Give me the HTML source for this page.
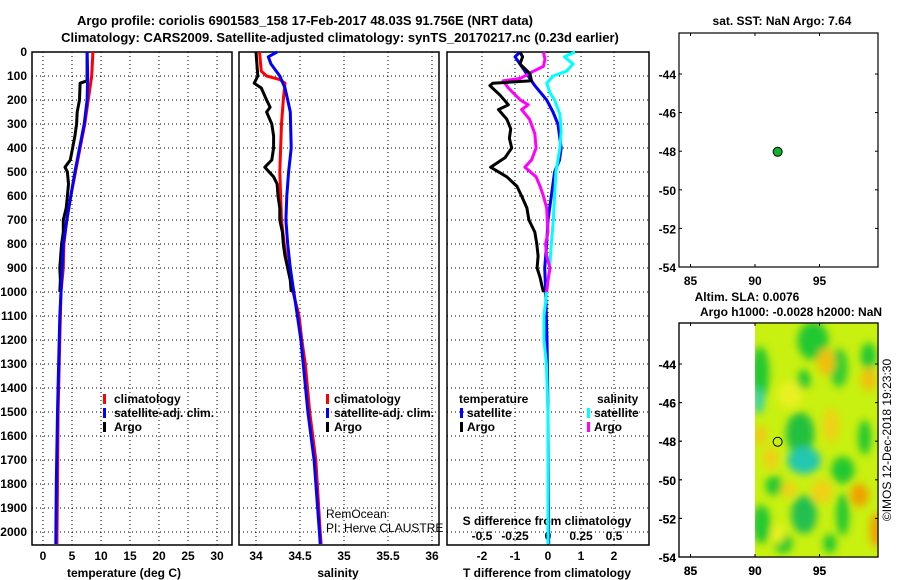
<!DOCTYPE html>
<html><head><meta charset="utf-8"><style>
html,body{margin:0;padding:0;background:#fff;}
svg{display:block;font-family:"Liberation Sans",sans-serif;font-weight:bold;}
</style></head><body>
<svg id="c" width="900" height="580" viewBox="0 0 900 580" xmlns="http://www.w3.org/2000/svg">
<defs>
<filter id="blur" x="-20%" y="-20%" width="140%" height="140%"><feGaussianBlur stdDeviation="4"/></filter>
<clipPath id="fieldclip"><rect x="755" y="323" width="123" height="234"/></clipPath>
</defs>
<text x="305" y="25" text-anchor="middle" font-size="13">Argo profile: coriolis 6901583_158 17-Feb-2017 48.03S 91.756E (NRT data)</text>
<text x="340" y="42" text-anchor="middle" font-size="13">Climatology: CARS2009. Satellite-adjusted climatology: synTS_20170217.nc (0.23d earlier)</text>
<g id="layer"></g>
</svg>
<script>
// ---------- data ----------
const depthTicks=[0,100,200,300,400,500,600,700,800,900,1000,1100,1200,1300,1400,1500,1600,1700,1800,1900,2000];
const tTicks=[0,5,10,15,20,25,30];
const sTicks=[34,34.5,35,35.5,36];
const sTickLabels=["34","34.5","35","35.5","36"];
const dTicks=[-2,-1,0,1,2];
const dSTickLabels=["-0.5","-0.25","0","0.25","0.5"];

const argoDepth=[0,120,130,200,250,300,350,400,450,480,500,550,600,650,700,750,800,900,950,1000];
const argoT=[7.6,7.6,6.4,6.3,5.9,5.8,5.5,5.1,4.7,3.8,4.2,4.4,4.2,4.0,3.5,3.5,3.2,2.9,3.0,2.9];
const climTDepth=[0,100,200,300,400,500,600,700,800,900,1000,1200,1500,1800,2050];
const climT=[8.6,8.4,7.8,7.2,6.4,5.6,4.8,4.1,3.6,3.5,3.1,2.9,2.6,2.5,2.4];
const satTDepth=[0,100,200,300,400,500,600,700,800,900,1000,1100,1200,1500,1800,2050];
const satT=[7.6,7.7,7.6,7.1,6.3,5.5,4.8,4.1,3.5,3.3,3.1,2.9,2.8,2.5,2.3,2.2];

const argoSDepth=[0,100,130,150,200,230,250,300,350,400,450,480,520,550,600,650,700,750,800,850,900,950,1000];
const argoS=[34.0,34.02,33.98,34.06,34.12,34.16,34.12,34.18,34.2,34.2,34.18,34.1,34.2,34.24,34.25,34.27,34.27,34.3,34.31,34.33,34.36,34.39,34.4];
const climSDepth=[0,80,100,115,130,200,300,500,700,800,900,1000,1100,1200,1300,1500,1700,2000,2050];
const climS=[34.04,34.06,34.12,34.27,34.33,34.31,34.29,34.27,34.29,34.32,34.36,34.42,34.49,34.52,34.56,34.61,34.68,34.73,34.74];
const satSDepth=[0,20,50,100,150,200,250,400,500,600,700,800,900,1000,1100,1200,1500,1700,2000,2050];
const satS=[34.24,34.14,34.17,34.27,34.33,34.36,34.39,34.4,34.37,34.35,34.34,34.36,34.39,34.43,34.47,34.51,34.59,34.66,34.72,34.73];

const dArgoTDepth=[0,20,50,90,120,130,140,180,220,240,280,320,360,400,440,480,520,560,600,650,700,750,800,850,900,940,970,1000];
const dArgoT=[-0.85,-0.77,-0.85,-0.55,-0.5,-1.67,-1.76,-1.45,-1.2,-1.5,-1.25,-1.13,-1.17,-1.1,-1.3,-1.74,-1.25,-0.94,-0.8,-0.64,-0.58,-0.4,-0.34,-0.3,-0.33,-0.24,-0.19,-0.14];
const dArgoSDepth=[0,30,60,80,110,120,150,200,220,240,280,340,400,450,480,520,560,600,650,700,750,800,850,900,950,1000];
const dArgoS=[-0.035,-0.023,-0.035,-0.11,-0.21,-0.34,-0.3,-0.21,-0.15,-0.2,-0.14,-0.1,-0.09,-0.125,-0.175,-0.09,-0.06,-0.035,-0.01,-0.005,0,-0.018,-0.01,0.015,0,-0.01];
const dSatTDepth=[0,20,50,100,140,200,250,300,400,450,500,600,700,800,900,1000,1200,1500,2050];
const dSatT=[-0.85,-1.0,-0.85,-0.6,-0.4,-0.04,0.15,0.3,0.4,0.35,0.2,0.1,0,-0.04,-0.1,-0.07,-0.03,0,0.02];
const dSatSDepth=[0,20,50,80,100,130,170,200,260,330,400,500,600,700,800,900,1000,1100,1200,1300,1500,2050];
const dSatS=[0.205,0.125,0.19,0.14,0.04,-0.01,0.015,0.05,0.09,0.1,0.09,0.06,0.05,0.04,0.025,0.012,-0.01,-0.03,-0.03,-0.012,0,0];

const mapXTicks=[85,90,95];
const mapYTicks=[-44,-46,-48,-50,-52,-54];
const argoLon=91.756, argoLat=-48.03;

// ---------- helpers ----------
const NS="http://www.w3.org/2000/svg";
const L=document.getElementById('layer');
function mk(tag,attrs,parent){const e=document.createElementNS(NS,tag);for(const k in attrs)e.setAttribute(k,attrs[k]);(parent||L).appendChild(e);return e;}
const Y0=52, Y1=545;
const yD=d=>Y0+d*0.24;
const panels=[
 {x0:32,x1:232,fx:v=>43+v*5.8},
 {x0:239,x1:439,fx:v=>256+(v-34)*88},
 {x0:447,x1:649,fx:v=>548+v*33}
];
const fxS3=v=>548+v*4*33;

function frame(p,name){
 const r=mk('rect',{x:p.x0,y:Y0,width:p.x1-p.x0,height:Y1-Y0,fill:'none',stroke:'#000','stroke-width':1.5});
 
 
 depthTicks.forEach(d=>{
  const g=mk('line',{x1:p.x0,x2:p.x1,y1:yD(d),y2:yD(d),stroke:'#000','stroke-width':1,'stroke-dasharray':'1,3'});
  
  
 });
}
function vgrid(p,ticks,fx){
 ticks.forEach(t=>{
  const g=mk('line',{x1:fx(t),x2:fx(t),y1:Y0,y2:Y1,stroke:'#000','stroke-width':1,'stroke-dasharray':'1,3'});
  
  
 });
}
function line(ds,vs,fx,color,name){
 const pts=ds.map((d,i)=>fx(vs[i]).toFixed(1)+','+yD(d).toFixed(1)).join(' ');
 const e=mk('polyline',{points:pts,fill:'none',stroke:color,'stroke-width':3,'stroke-linejoin':'round'});
 
 
}
function text(x,y,s,opts,name){
 const e=mk('text',Object.assign({x:x,y:y,'font-size':12},opts||{}));e.textContent=s;
 
 
 return e;
}
function marker(x,y,color){
 const e=mk('rect',{x:x,y:y-9,width:3,height:10,fill:color});
 
 
}

// panels
panels.forEach((p,i)=>frame(p,['temperature-panel','salinity-panel','difference-panel'][i]));
vgrid(panels[0],tTicks,panels[0].fx);
vgrid(panels[1],sTicks,panels[1].fx);
vgrid(panels[2],dTicks,panels[2].fx);

depthTicks.forEach(d=>text(27,yD(d)+4,String(d),{'text-anchor':'end'},'depth-tick-label'));
tTicks.forEach(t=>text(panels[0].fx(t),560,String(t),{'text-anchor':'middle'},'temperature-tick-label'));
sTicks.forEach((t,i)=>text(panels[1].fx(t),560,sTickLabels[i],{'text-anchor':'middle'},'salinity-tick-label'));
dTicks.forEach(t=>text(panels[2].fx(t),560,String(t),{'text-anchor':'middle'},'t-diff-tick-label'));
dSTickLabels.forEach((s,i)=>text(panels[2].fx(dTicks[i]),540,s,{'text-anchor':'middle'},'s-diff-tick-label'));
text(124,577,'temperature (deg C)',{'text-anchor':'middle'},'temperature-axis-title');
text(338,577,'salinity',{'text-anchor':'middle'},'salinity-axis-title');
text(547,577,'T difference from climatology',{'text-anchor':'middle'},'t-diff-axis-title');
text(547,525,'S difference from climatology',{'text-anchor':'middle'},'s-diff-axis-title');

// series
line(climTDepth,climT,panels[0].fx,'#ff0000','temperature-climatology-line');
line(argoDepth,argoT,panels[0].fx,'#000000','temperature-argo-line');
line(satTDepth,satT,panels[0].fx,'#0000ff','temperature-satellite-line');
line(climSDepth,climS,panels[1].fx,'#ff0000','salinity-climatology-line');
line(argoSDepth,argoS,panels[1].fx,'#000000','salinity-argo-line');
line(satSDepth,satS,panels[1].fx,'#0000ff','salinity-satellite-line');
line(dSatTDepth,dSatT,panels[2].fx,'#0000ff','t-diff-satellite-line');
line(dSatSDepth,dSatS,fxS3,'#00ffff','s-diff-satellite-line');
line(dArgoSDepth,dArgoS,fxS3,'#ff00ff','s-diff-argo-line');
line(dArgoTDepth,dArgoT,panels[2].fx,'#000000','t-diff-argo-line');

// legends
[[0,103,114],[1,326,334]].forEach(([pi,mx,tx])=>{
 marker(mx,403,'#ff0000');text(tx,403,'climatology',{},'legend-climatology');
 marker(mx,417,'#0000ff');text(tx,417,'satellite-adj. clim.',{},'legend-satellite');
 marker(mx,431,'#000000');text(tx,431,'Argo',{},'legend-argo');
});
text(459,403,'temperature',{},'legend-temperature-heading');
text(597,403,'salinity',{},'legend-salinity-heading');
marker(460,417,'#0000ff');text(467,417,'satellite',{},'legend-t-satellite');
marker(460,431,'#000000');text(467,431,'Argo',{},'legend-t-argo');
marker(587,417,'#00ffff');text(594,417,'satellite',{},'legend-s-satellite');
marker(587,431,'#ff00ff');text(594,431,'Argo',{},'legend-s-argo');
text(326,518,'RemOcean',{'font-weight':'normal'},'credit-project');
text(326,532,'PI: Herve CLAUSTRE',{'font-weight':'normal'},'credit-pi');

// maps
function mapFrame(oy,name){
 const fx=v=>755+(v-90)*12.9, fy=v=>74+oy+(-44-v)*19.3;
 const r=mk('rect',{x:679,y:33+oy,width:199,height:234,fill:'none',stroke:'#000','stroke-width':1.2});
 
 
 mapXTicks.forEach(t=>{
  mk('line',{x1:fx(t),x2:fx(t),y1:33+oy,y2:36+oy,stroke:'#000'});
  mk('line',{x1:fx(t),x2:fx(t),y1:267+oy,y2:264+oy,stroke:'#000'});
  text(fx(t),285+oy,String(t),{'text-anchor':'middle'},'map-lon-tick-label');
 });
 mapYTicks.forEach(t=>{
  mk('line',{x1:679,x2:682,y1:fy(t),y2:fy(t),stroke:'#000'});
  mk('line',{x1:878,x2:875,y1:fy(t),y2:fy(t),stroke:'#000'});
  text(676,fy(t)+5,String(t),{'text-anchor':'end'},'map-lat-tick-label');
 });
 return {fx,fy};
}
// SLA field (bottom map)
const fieldBlobs=[
 // [lon, lat, rx(deg), ry(deg), color]
 [94.5,-42.8,1.2,1.0,'#22c830'],[98.8,-43.6,0.6,0.7,'#22c830'],[90.4,-44.5,0.7,1.4,'#22c830'],
 [90.3,-45.9,0.4,0.7,'#30d0b0'],[93.8,-44.8,0.5,0.5,'#22c830'],[96.5,-44.2,0.7,1.0,'#33cc33'],
 [93.5,-47.6,1.1,1.1,'#22c040'],[93.8,-49,1.3,0.7,'#22c8b0'],[96.8,-49.5,0.9,0.7,'#22c830'],
 [91.5,-50.3,0.7,0.5,'#22c830'],[90.5,-52.3,0.7,1.0,'#22c830'],[93.8,-51.8,1.0,1.0,'#20c050'],
 [96.8,-51.8,0.5,1.1,'#22c830'],[98.5,-47.8,0.5,0.9,'#22c830'],[92.2,-53.3,0.7,0.5,'#22c830'],
 [95.8,-53.3,0.5,0.5,'#22c830'],
 [95.5,-43.9,0.7,0.7,'#f0c010'],[98.8,-44.8,0.6,0.6,'#f0c010'],[92.7,-45.6,1.0,0.7,'#e8f020'],
 [90.4,-47.7,0.5,0.5,'#f0c818'],[91.2,-48.9,0.6,0.6,'#f0d018'],[95.9,-47.2,0.6,0.9,'#f0d018'],
 [98.1,-50.8,0.7,0.6,'#f0a000'],[99.4,-52.6,0.5,0.9,'#f0a000'],[95.2,-50.6,0.8,0.6,'#f0d018'],
 [92.6,-50.5,0.6,0.4,'#f0d018'],[91.8,-52.8,0.5,0.5,'#e8f020']
];
const bm=mapFrame(290,'sla-map');
const fr=mk('rect',{x:755,y:323,width:123,height:234,fill:'#c8f010'});


const fg=mk('g',{'clip-path':'url(#fieldclip)'});
const fg2=mk('g',{filter:'url(#blur)'},fg);
fieldBlobs.forEach(b=>{
 const e=mk('ellipse',{cx:bm.fx(b[0]),cy:bm.fy(b[1]),rx:b[2]*12.9,ry:b[3]*19.3,fill:b[4]},fg2);
 
 
});
mapFrame(290,'sla-map');
const d2=mk('circle',{cx:bm.fx(argoLon),cy:bm.fy(argoLat),r:4.5,fill:'none',stroke:'#000','stroke-width':1});


const tm=mapFrame(0,'sst-map');
const d1=mk('circle',{cx:tm.fx(argoLon),cy:tm.fy(argoLat),r:4.5,fill:'#10b030',stroke:'#000','stroke-width':1});


text(782,25,'sat. SST: NaN Argo: 7.64',{'text-anchor':'middle'},'sst-map-title');
text(747,301,'Altim. SLA: 0.0076',{'text-anchor':'middle'},'sla-map-title');
text(791,316,'Argo h1000: -0.0028 h2000: NaN',{'text-anchor':'middle'},'sla-map-subtitle');
text(0,0,'©IMOS 12-Dec-2018 19:23:30',{'text-anchor':'middle','font-weight':'normal',transform:'translate(891,440) rotate(-90)'},'imos-timestamp');
</script>
</body></html>
